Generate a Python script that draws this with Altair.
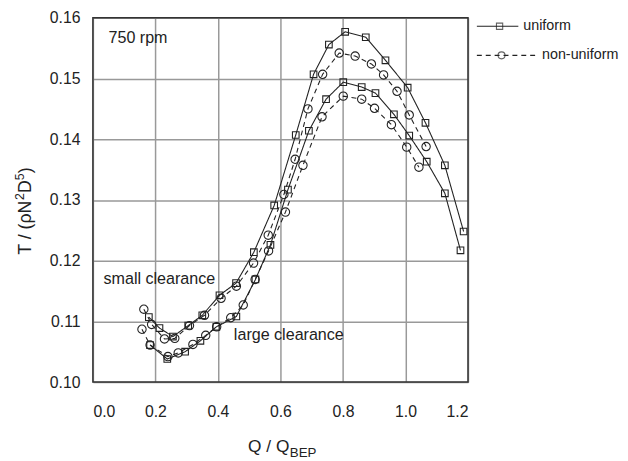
import altair as alt
import pandas as pd

# ---- data ----
# uniform, small clearance (upper solid squares)
q_uni_small = [0.179, 0.213, 0.256, 0.305, 0.350, 0.405, 0.458, 0.515, 0.580, 0.649,
               0.706, 0.755, 0.807, 0.873, 0.936, 1.007, 1.064, 1.126, 1.186]
t_uni_small = [0.1107, 0.1089, 0.1075, 0.1093, 0.1110, 0.1143, 0.1163, 0.1214, 0.1291, 0.1407,
               0.1507, 0.1556, 0.1577, 0.1568, 0.1530, 0.1485, 0.1427, 0.1357, 0.1248]
# uniform, large clearance (lower solid squares)
q_uni_large = [0.183, 0.238, 0.295, 0.344, 0.395, 0.459, 0.520, 0.568, 0.624, 0.691,
               0.746, 0.801, 0.860, 0.904, 0.963, 1.012, 1.068, 1.126, 1.176]
t_uni_large = [0.1061, 0.1038, 0.1050, 0.1068, 0.1091, 0.1108, 0.1169, 0.1226, 0.1317, 0.1414,
               0.1466, 0.1494, 0.1486, 0.1476, 0.1441, 0.1406, 0.1363, 0.1311, 0.1217]
# non-uniform, small clearance (upper dashed circles)
q_non_small = [0.163, 0.188, 0.229, 0.262, 0.309, 0.357, 0.410, 0.459, 0.514, 0.561,
               0.611, 0.647, 0.688, 0.735, 0.788, 0.839, 0.891, 0.930, 0.973, 1.012, 1.066]
t_non_small = [0.1120, 0.1095, 0.1071, 0.1072, 0.1093, 0.1110, 0.1138, 0.1158, 0.1196, 0.1242,
               0.1309, 0.1367, 0.1450, 0.1507, 0.1542, 0.1537, 0.1524, 0.1506, 0.1479, 0.1440, 0.1388]
# non-uniform, large clearance (lower dashed circles)
q_non_large = [0.157, 0.183, 0.240, 0.273, 0.320, 0.361, 0.396, 0.441, 0.481, 0.519,
               0.562, 0.616, 0.672, 0.733, 0.801, 0.860, 0.901, 0.955, 1.004, 1.043]
t_non_large = [0.1087, 0.1061, 0.1042, 0.1048, 0.1062, 0.1077, 0.1091, 0.1106, 0.1127, 0.1169,
               0.1216, 0.1280, 0.1357, 0.1437, 0.1471, 0.1466, 0.1451, 0.1424, 0.1387, 0.1354]

x_ticks = [0.0, 0.2, 0.4, 0.6, 0.8, 1.0, 1.2]
y_ticks = [0.10, 0.11, 0.12, 0.13, 0.14, 0.15, 0.16]

ann_text = ["750 rpm", "small clearance", "large clearance"]
ann_q = [0.05, 0.034, 0.451]
ann_t = [0.1567, 0.1169, 0.1077]

legend_names = ["uniform", "non-uniform"]

# ---- build table ----
rows = []
for series, style, qs, ts in [
    ("uniform small", "uniform", q_uni_small, t_uni_small),
    ("uniform large", "uniform", q_uni_large, t_uni_large),
    ("non-uniform small", "non-uniform", q_non_small, t_non_small),
    ("non-uniform large", "non-uniform", q_non_large, t_non_large),
]:
    for i, (q, t) in enumerate(zip(qs, ts)):
        rows.append({"series": series, "style": style, "q": q, "t": t, "order": i})
df = pd.DataFrame(rows)

FONT = "Liberation Sans"
INK = "#222222"
W, H = 380, 369

xenc = alt.X("q:Q", scale=alt.Scale(domain=[0, 1.2], nice=False),
             axis=alt.Axis(values=x_ticks, format=".1f", title=None, ticks=False, domain=False,
                           labelPadding=22, labelFontSize=16, labelFont=FONT, labelColor=INK,
                           grid=True, gridColor="#999999", gridWidth=1.5))
yenc = alt.Y("t:Q", scale=alt.Scale(domain=[0.10, 0.16], nice=False, zero=False),
             axis=alt.Axis(values=y_ticks, format=".2f", title=None, ticks=False, domain=False,
                           labelPadding=13, labelFontSize=16, labelFont=FONT, labelColor=INK,
                           grid=True, gridColor="#999999", gridWidth=1.5))

dash_scale = alt.Scale(domain=legend_names, range=[[1, 0], [5, 4]])
shape_scale = alt.Scale(domain=legend_names, range=["square", "circle"])
size_scale = alt.Scale(domain=legend_names, range=[45, 72])

lines = alt.Chart(df).mark_line(color=INK, strokeWidth=1.1).encode(
    x=xenc, y=yenc, detail="series:N", order="order:Q",
    strokeDash=alt.StrokeDash("style:N", scale=dash_scale, legend=None),
)
points = alt.Chart(df).mark_point(filled=False, color=INK, strokeWidth=1.1, opacity=1).encode(
    x=xenc, y=yenc,
    shape=alt.Shape("style:N", scale=shape_scale, legend=None),
    size=alt.Size("style:N", scale=size_scale, legend=None),
)

ann_df = pd.DataFrame({"label": ann_text, "q": ann_q, "t": ann_t})
ann = alt.Chart(ann_df).mark_text(align="left", baseline="middle", fontSize=16.3, font=FONT, color=INK).encode(
    x="q:Q", y="t:Q", text="label:N")

one = pd.DataFrame({"a": [0]})

frame = alt.Chart(one).mark_rect(fill=None, stroke="#333333", strokeWidth=1.5).encode(
    x=alt.value(0), x2=alt.value(W), y=alt.value(0), y2=alt.value(H))


def txt(s, x, y, size, align="left", baseline="middle", angle=0):
    kw = dict(align=align, baseline=baseline, fontSize=size, font=FONT, color=INK)
    if angle:
        kw["angle"] = angle
    return alt.Chart(one).mark_text(**kw).encode(x=alt.value(x), y=alt.value(y), text=alt.value(s))


# legend (drawn manually)
leg_rule1 = alt.Chart(one).mark_rule(color=INK, strokeWidth=1.1).encode(
    x=alt.value(389), x2=alt.value(431), y=alt.value(8.5))
leg_pt1 = alt.Chart(one).mark_point(shape="square", filled=False, color=INK, size=40, strokeWidth=1.1).encode(
    x=alt.value(412), y=alt.value(8.5))
leg_rule2 = alt.Chart(one).mark_rule(color=INK, strokeWidth=1.1, strokeDash=[5, 4]).encode(
    x=alt.value(389), x2=alt.value(449), y=alt.value(38))
leg_pt2 = alt.Chart(one).mark_point(shape="circle", filled=False, color=INK, size=50, strokeWidth=1.1).encode(
    x=alt.value(414), y=alt.value(38))
leg_txt1 = txt(legend_names[0], 436, 8.5, 14.5)
leg_txt2 = txt(legend_names[1], 455, 38, 14.5)

# y axis title, built from pieces so the superscripts are raised (rotated 270)
YB = -62.5     # baseline x (plot coords)
YS = -70       # superscript baseline x
y0 = 240
yt_parts = [
    txt("T / (ρN", YB, y0, 18, baseline="alphabetic", angle=270),
    txt("2", YS, y0 - 55.4, 12.5, baseline="alphabetic", angle=270),
    txt("D", YB, y0 - 62.5, 18, baseline="alphabetic", angle=270),
    txt("5", YS, y0 - 75.5, 12.5, baseline="alphabetic", angle=270),
    txt(")", YB, y0 - 82.5, 18, baseline="alphabetic", angle=270),
]

# x axis title
xtitle_a = txt("Q / Q", 199, 439.5, 17.5, align="right", baseline="alphabetic")
xtitle_b = txt("BEP", 199.5, 444.5, 13.5, baseline="alphabetic")

chart = alt.layer(
    lines, points, ann, frame,
    leg_rule1, leg_pt1, leg_txt1, leg_rule2, leg_pt2, leg_txt2,
    *yt_parts, xtitle_a, xtitle_b,
).properties(
    width=W, height=H,
    padding={"left": 86, "top": 7, "right": 154, "bottom": 77},
    autosize=alt.AutoSizeParams(type="none"),
    background="white",
).configure_view(stroke=None)

chart.save("out.html", embed_options={"renderer": "svg", "actions": False})
